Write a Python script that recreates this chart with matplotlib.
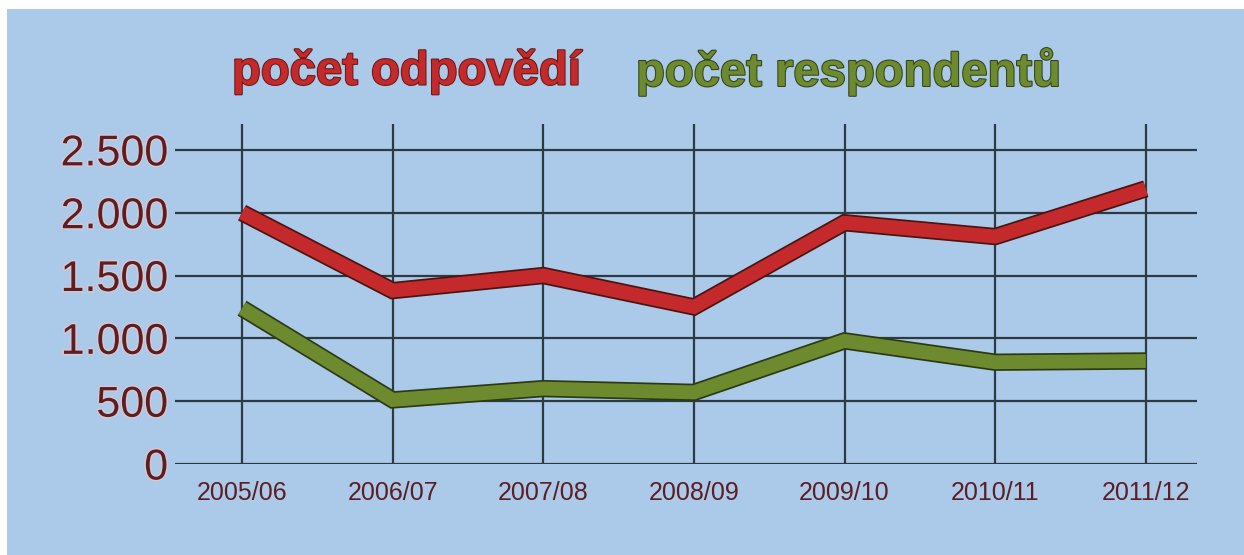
"""
Počet odpovědí / respondentů - čárový graf
"""
import matplotlib
matplotlib.use('Agg')

import matplotlib.pyplot as plt
import matplotlib.patheffects as pe
from matplotlib.patches import Rectangle
from matplotlib.ticker import FuncFormatter

plt.rcParams['font.family'] = ['Liberation Sans', 'DejaVu Sans']

# data
roky = ['2005/06', '2006/07', '2007/08', '2008/09', '2009/10', '2010/11', '2011/12']
odpovedi = [2000, 1380, 1500, 1250, 1920, 1810, 2190]
respondenti = [1240, 510, 600, 570, 980, 810, 820]
y_ticks = [0, 500, 1000, 1500, 2000, 2500]

BG = '#abc9e8'
RED = '#c42a2c'
GREEN = '#6d8a2e'
LABEL = '#5c1e22'
GRID = '#2c3b42'

fig = plt.figure(figsize=(12.44, 5.55), dpi=100, facecolor='white')
# modré pozadí s bílým okrajem nahoře a vlevo
fig.patches.append(Rectangle((7 / 1244, 0), 1, 1 - 9 / 555, transform=fig.transFigure,
                             facecolor=BG, edgecolor='none', zorder=-10))

ax = fig.add_axes([175 / 1244, 1 - 464 / 555, (1197 - 175) / 1244, (464 - 124) / 555])
ax.set_facecolor('none')

x = list(range(len(roky)))
outline = [pe.Stroke(linewidth=12.5, foreground='#4a1410'), pe.Normal()]
ax.plot(x, odpovedi, color=RED, linewidth=10, solid_joinstyle='miter',
        solid_capstyle='butt', path_effects=outline, zorder=3)
outline_g = [pe.Stroke(linewidth=12.5, foreground='#2c3a14'), pe.Normal()]
ax.plot(x, respondenti, color=GREEN, linewidth=10, solid_joinstyle='miter',
        solid_capstyle='butt', path_effects=outline_g, zorder=3)

ax.set_xlim(-0.445, 6.34)
ax.set_ylim(0, 2706)
ax.set_xticks(x)
ax.set_xticklabels(roky)
ax.set_yticks(y_ticks)
ax.yaxis.set_major_formatter(FuncFormatter(lambda v, p: f'{int(v):,}'.replace(',', '.')))

ax.grid(True, color=GRID, linewidth=1.6)
ax.set_axisbelow(True)
for s in ax.spines.values():
    s.set_visible(False)
ax.tick_params(axis='both', length=0)
ax.tick_params(axis='y', labelsize=31, labelcolor=LABEL, pad=5)
ax.tick_params(axis='x', labelsize=18, labelcolor=LABEL, pad=12)
for t in ax.get_yticklabels():
    t.set_path_effects([pe.withStroke(linewidth=2, foreground='#d8c8d0')])

# legenda jako text
fig.text(232 / 1244, 1 - 72 / 555, 'počet odpovědí', color=RED, fontsize=34,
         fontweight='bold', va='center', ha='left',
         path_effects=[pe.withStroke(linewidth=1.5, foreground='#6a1a14')])
fig.text(636 / 1244, 1 - 72 / 555, 'počet respondentů', color=GREEN, fontsize=34,
         fontweight='bold', va='center', ha='left',
         path_effects=[pe.withStroke(linewidth=1.5, foreground='#33421a')])

plt.savefig('out.png', dpi=100, facecolor='white')
plt.close()
